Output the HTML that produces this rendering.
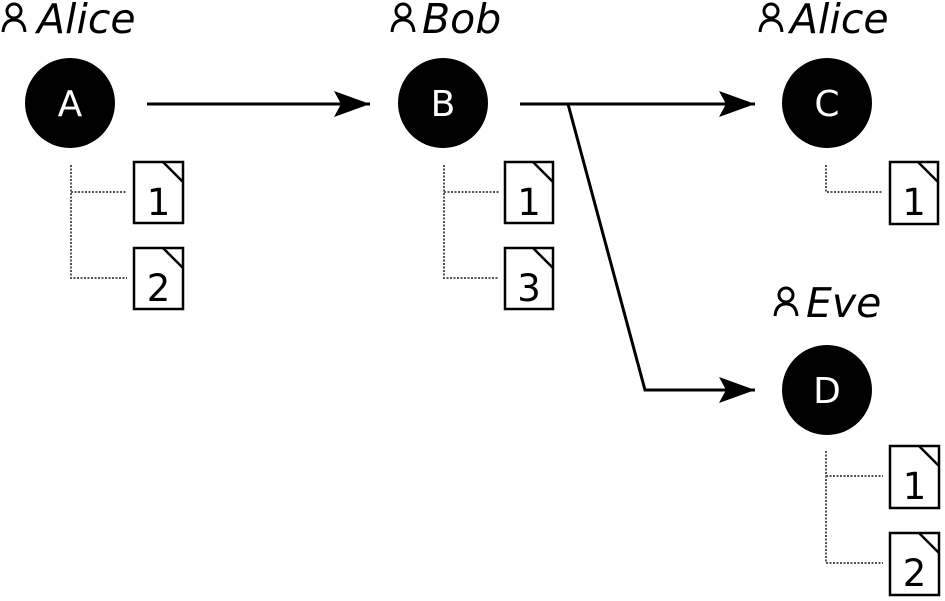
<!DOCTYPE html>
<html><head><meta charset="utf-8"><style>
html,body{margin:0;padding:0;background:#fff;}
svg{display:block;}
</style></head><body>
<svg width="945" height="601" viewBox="0 0 945 601" xmlns="http://www.w3.org/2000/svg">
<defs>
<g id="person" fill="none" stroke="#000" stroke-width="3">
<circle cx="0" cy="-21" r="7"/>
<path d="M-11,0 Q-10,-12 0,-12 Q10,-12 11,0"/>
</g>
<marker id="ah" markerWidth="40" markerHeight="30" refX="36" refY="15" orient="auto" markerUnits="userSpaceOnUse">
<path d="M0,2 L36,15 L0,28 L7,15 Z" fill="#000"/>
</marker>
</defs>
<style>
.lab{font-family:"DejaVu Sans","Liberation Sans",sans-serif;font-style:italic;font-size:41px;fill:#000;}
.nd{font-family:"DejaVu Sans","Liberation Sans",sans-serif;font-size:36px;fill:#fff;}
.dn{font-family:"DejaVu Sans","Liberation Sans",sans-serif;font-size:37px;fill:#000;}
.tree{fill:none;stroke:#555;stroke-width:2;stroke-dasharray:2,1.5;}
.doc{fill:#fff;stroke:#000;stroke-width:2.5;}
</style>

<use href="#person" x="14" y="32"/><text class="lab" x="37" y="33">Alice</text>
<use href="#person" x="403" y="32"/><text class="lab" x="422" y="33">Bob</text>
<use href="#person" x="771" y="32"/><text class="lab" x="790" y="33">Alice</text>
<use href="#person" x="786" y="316"/><text class="lab" x="806" y="317">Eve</text>

<circle cx="70" cy="103" r="45"/><text class="nd" x="70" y="116" text-anchor="middle">A</text>
<circle cx="443" cy="103" r="45"/><text class="nd" x="443" y="116" text-anchor="middle">B</text>
<circle cx="827" cy="103" r="45"/><text class="nd" x="827" y="116" text-anchor="middle">C</text>
<circle cx="827" cy="390" r="45"/><text class="nd" x="827" y="403" text-anchor="middle">D</text>

<line x1="147" y1="104" x2="370" y2="104" stroke="#000" stroke-width="3" marker-end="url(#ah)"/>
<line x1="520" y1="104" x2="755" y2="104" stroke="#000" stroke-width="3" marker-end="url(#ah)"/>
<polyline points="568,104 645,390 755,390" fill="none" stroke="#000" stroke-width="3" marker-end="url(#ah)"/>

<path class="tree" d="M71,165 V278 H127 M71,192 H127"/>
<path class="tree" d="M444,165 V278 H499 M444,192 H499"/>
<path class="tree" d="M826,165 V192 H883"/>
<path class="tree" d="M826,451 V563 H883 M826,476 H883"/>

<g transform="translate(134,162)"><rect class="doc" width="49" height="61"/><line x1="29" y1="0" x2="49" y2="20" stroke="#000" stroke-width="2.5"/><text class="dn" x="24.5" y="53" text-anchor="middle">1</text></g>
<g transform="translate(134,248)"><rect class="doc" width="49" height="61"/><line x1="29" y1="0" x2="49" y2="20" stroke="#000" stroke-width="2.5"/><text class="dn" x="24.5" y="53" text-anchor="middle">2</text></g>
<g transform="translate(505,162)"><rect class="doc" width="48" height="61"/><line x1="28" y1="0" x2="48" y2="20" stroke="#000" stroke-width="2.5"/><text class="dn" x="24" y="53" text-anchor="middle">1</text></g>
<g transform="translate(505,248)"><rect class="doc" width="48" height="61"/><line x1="28" y1="0" x2="48" y2="20" stroke="#000" stroke-width="2.5"/><text class="dn" x="24" y="53" text-anchor="middle">3</text></g>
<g transform="translate(890,162)"><rect class="doc" width="48" height="62"/><line x1="28" y1="0" x2="48" y2="20" stroke="#000" stroke-width="2.5"/><text class="dn" x="24" y="53" text-anchor="middle">1</text></g>
<g transform="translate(890,446)"><rect class="doc" width="49" height="62"/><line x1="29" y1="0" x2="49" y2="20" stroke="#000" stroke-width="2.5"/><text class="dn" x="24.5" y="53" text-anchor="middle">1</text></g>
<g transform="translate(890,533)"><rect class="doc" width="49" height="62"/><line x1="29" y1="0" x2="49" y2="20" stroke="#000" stroke-width="2.5"/><text class="dn" x="24.5" y="53" text-anchor="middle">2</text></g>
</svg>
</body></html>
